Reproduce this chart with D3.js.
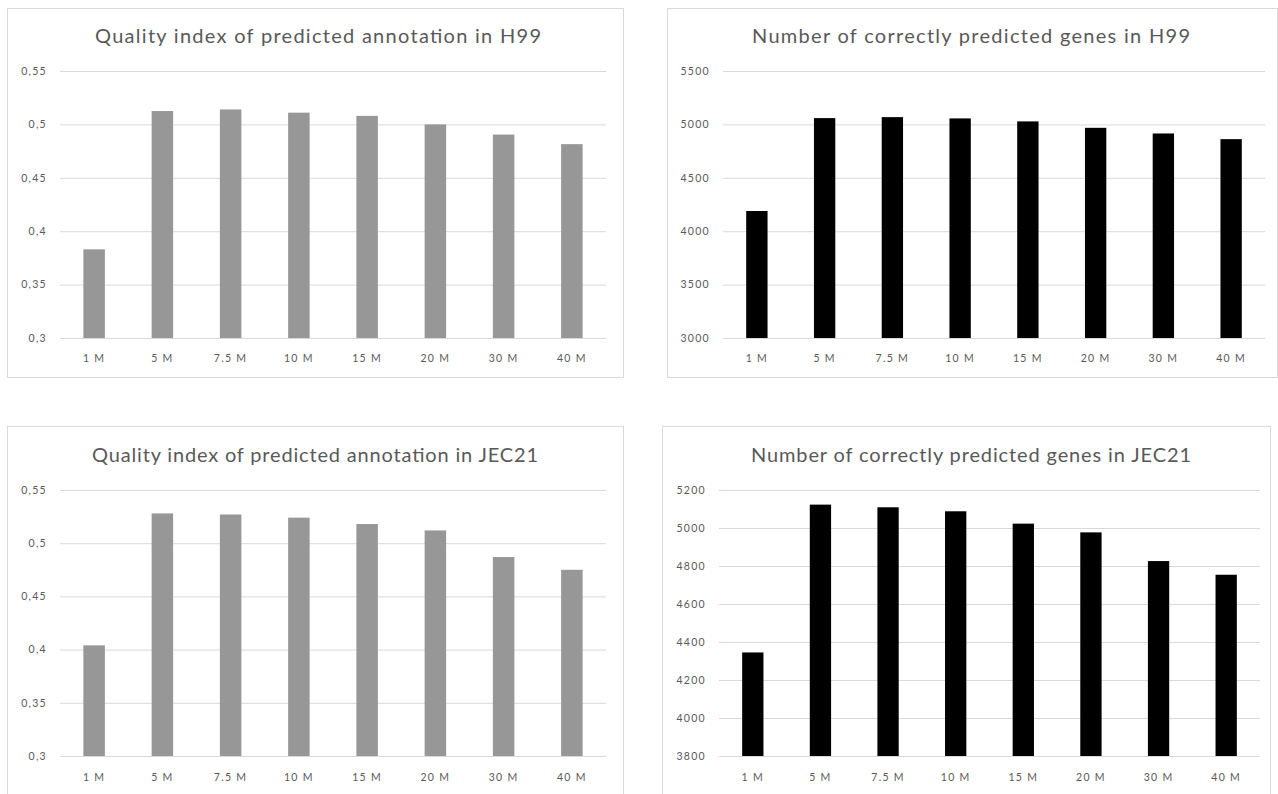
<!DOCTYPE html>
<html>
<head>
<meta charset="utf-8">
<script src="https://cdn.jsdelivr.net/npm/d3@7/dist/d3.min.js"></script>
<style>
  html, body { margin: 0; padding: 0; background: #ffffff; }
  svg { display: block; }
  text { font-family: Lato, "Open Sans", "Liberation Sans", sans-serif; }
</style>
</head>
<body>
<svg id="chart" width="1278" height="794"></svg>
<script>
// Read depth categories shared by all four panels
const categories = ["1 M", "5 M", "7.5 M", "10 M", "15 M", "20 M", "30 M", "40 M"];

// Quality index of the predicted annotation
const qualityH99   = [0.383, 0.5125, 0.514, 0.511, 0.508, 0.500, 0.4905, 0.4815];
const qualityJEC21 = [0.404, 0.528, 0.527, 0.524, 0.518, 0.512, 0.487, 0.475];

// Number of correctly predicted genes
const genesH99   = [4189, 5059, 5068, 5056, 5028, 4968, 4915, 4862];
const genesJEC21 = [4345, 5123, 5109, 5088, 5023, 4977, 4826, 4754];

// Value axis ticks and their labels
const qualityTicks      = [0.3, 0.35, 0.4, 0.45, 0.5, 0.55];
const qualityTickLabels = ["0,3", "0,35", "0,4", "0,45", "0,5", "0,55"];
const genesH99Ticks      = [3000, 3500, 4000, 4500, 5000, 5500];
const genesH99TickLabels = ["3000", "3500", "4000", "4500", "5000", "5500"];
const genesJEC21Ticks      = [3800, 4000, 4200, 4400, 4600, 4800, 5000, 5200];
const genesJEC21TickLabels = ["3800", "4000", "4200", "4400", "4600", "4800", "5000", "5200"];

const titles = [
  "Quality index of predicted annotation in H99",
  "Number of correctly predicted genes in H99",
  "Quality index of predicted annotation in JEC21",
  "Number of correctly predicted genes in JEC21"
];

const svg = d3.select("#chart");

const panels = [
  { title: titles[0], values: qualityH99, ticks: qualityTicks, labels: qualityTickLabels,
    fill: "#979797", frame: [7, 8, 623, 377], px: [60, 606], py: [338, 71],
    titleX: 318, titleY: 43, titleW: 446, catY: 358 },
  { title: titles[1], values: genesH99, ticks: genesH99Ticks, labels: genesH99TickLabels,
    fill: "#000000", frame: [667, 8, 1277, 377], px: [723, 1265], py: [338, 71],
    titleX: 971, titleY: 43, titleW: 438, catY: 358 },
  { title: titles[2], values: qualityJEC21, ticks: qualityTicks, labels: qualityTickLabels,
    fill: "#979797", frame: [7, 426, 623, 800], px: [60, 606], py: [756, 490],
    titleX: 315, titleY: 462, titleW: 446, catY: 777 },
  { title: titles[3], values: genesJEC21, ticks: genesJEC21Ticks, labels: genesJEC21TickLabels,
    fill: "#000000", frame: [662, 426, 1270, 800], px: [719, 1260], py: [756, 490],
    titleX: 971, titleY: 462, titleW: 440, catY: 777 }
];

panels.forEach(p => {
  const g = svg.append("g");

  // chart area frame
  g.append("rect")
    .attr("x", p.frame[0] + 0.5).attr("y", p.frame[1] + 0.5)
    .attr("width", p.frame[2] - p.frame[0]).attr("height", p.frame[3] - p.frame[1])
    .attr("fill", "#ffffff").attr("stroke", "#d9d9d9").attr("stroke-width", 1);

  const x = d3.scaleBand()
    .domain(categories)
    .range(p.px)
    .paddingInner(0.685)
    .paddingOuter(0.3425);

  const y = d3.scaleLinear()
    .domain([p.ticks[0], p.ticks[p.ticks.length - 1]])
    .range(p.py);

  // value axis with horizontal gridlines
  const yAxis = g.append("g")
    .attr("transform", `translate(${p.px[0]},0)`)
    .call(d3.axisLeft(y)
      .tickValues(p.ticks)
      .tickFormat((d, i) => p.labels[i])
      .tickSize(-(p.px[1] - p.px[0]))
      .tickPadding(13));
  yAxis.select(".domain").remove();
  yAxis.selectAll(".tick line").attr("stroke", "#d9d9d9").attr("stroke-width", 1);
  yAxis.selectAll(".tick text")
    .attr("fill", "#595959")
    .style("font-size", "10.5px")
    .style("letter-spacing", "1.3px");

  // bars
  g.append("g").selectAll("rect")
    .data(p.values)
    .join("rect")
    .attr("x", (d, i) => x(categories[i]))
    .attr("width", x.bandwidth())
    .attr("y", d => y(d))
    .attr("height", d => y(p.ticks[0]) - y(d))
    .attr("fill", p.fill);

  // category axis
  const xAxis = g.append("g")
    .attr("transform", `translate(0,${p.catY})`)
    .call(d3.axisBottom(x).tickSize(0).tickPadding(0));
  xAxis.select(".domain").remove();
  xAxis.selectAll(".tick text")
    .attr("y", 0).attr("dy", "0.35em")
    .attr("fill", "#595959")
    .style("font-size", "10.5px")
    .style("letter-spacing", "1.3px");

  // chart title
  g.append("text")
    .attr("x", p.titleX).attr("y", p.titleY)
    .attr("text-anchor", "middle")
    .attr("fill", "#595959")
    .attr("textLength", p.titleW)
    .attr("lengthAdjust", "spacing")
    .style("font-size", "20px")
    .text(p.title);
});
</script>
</body>
</html>
